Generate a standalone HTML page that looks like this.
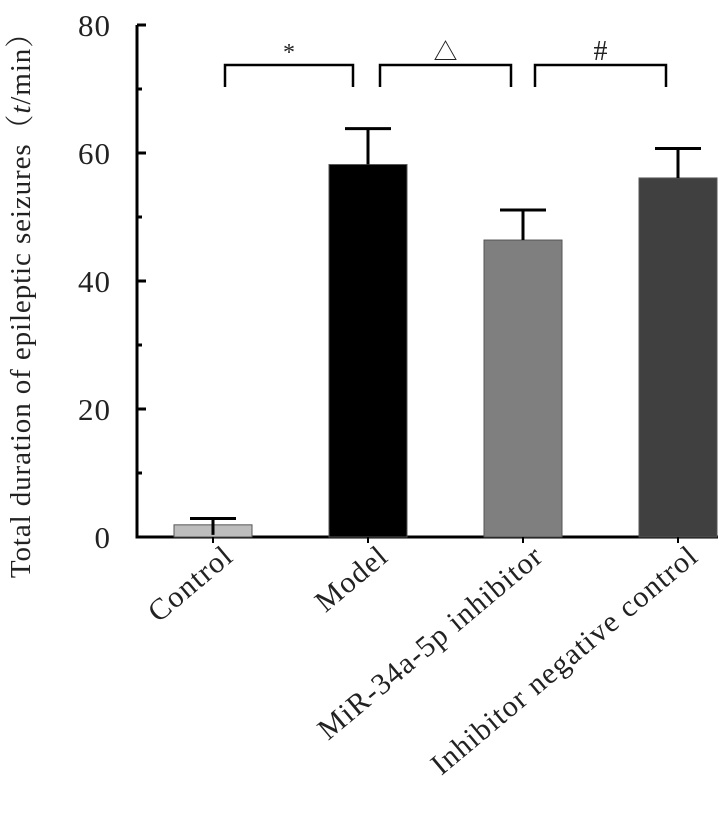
<!DOCTYPE html>
<html><head><meta charset="utf-8"><style>
body{margin:0;background:#fff}
svg text{font-family:"Liberation Serif","Noto Serif CJK SC",serif;fill:#222}
</style></head><body>
<svg width="721" height="816">
<g id="g"></g>
</svg>
<script>
const categories=["Control","Model","MiR-34a-5p inhibitor","Inhibitor negative control"];
const values=[1.9,58.2,46.4,56.1];
const errors=[1.0,5.6,4.7,4.6];
const colors=["#bdbdbd","#000000","#7f7f7f","#404040"];
const yTicks=[0,20,40,60,80];
const sigLabels=["*","△","#"];
const NS="http://www.w3.org/2000/svg";
const g=document.getElementById('g');
const y0=537,yTop=25,axX=137;
const y=v=>y0-(v/80)*(y0-yTop);
const xc=i=>213+i*155;
const bw=78;
function mk(t,a,p){const e=document.createElementNS(NS,t);for(const k in a)e.setAttribute(k,a[k]);(p||g).appendChild(e);return e;}
let e=mk('line',{x1:axX,y1:yTop,x2:axX,y2:y0+1.5,stroke:'#000','stroke-width':3});


e=mk('line',{x1:axX-1.5,y1:y0,x2:718,y2:y0,stroke:'#000','stroke-width':3});


for(let v=0;v<=80;v+=10){
 const maj=v%20===0;
 e=mk('line',{x1:axX,y1:y(v),x2:axX+(maj?9:5),y2:y(v),stroke:'#000','stroke-width':3});
 
 
}
yTicks.forEach(v=>{
 e=mk('text',{x:111,y:y(v)+11,'text-anchor':'end','font-size':31,'letter-spacing':1});
 e.textContent=v;
 
 
});
e=mk('text',{transform:'translate(30,298) rotate(-90)','text-anchor':'middle','font-size':29,'letter-spacing':0.9});
e.innerHTML='Total duration of epileptic seizures\uff08<tspan font-style="italic">t</tspan>/min\uff09';


categories.forEach((c,i)=>{
 const cx=xc(i);
 e=mk('rect',{x:cx-bw/2,y:y(values[i]),width:bw,height:y0-y(values[i]),fill:colors[i],stroke:'#555','stroke-width':1});
 
 
 e=mk('path',{d:`M${cx} ${y(values[i])+(i===0?10:0)}V${y(values[i]+errors[i])}M${cx-23} ${y(values[i]+errors[i])}H${cx+23}`,stroke:'#000','stroke-width':3,fill:'none'});
 
 
 e=mk('line',{x1:cx,y1:y0,x2:cx,y2:y0+6,stroke:'#000','stroke-width':2});
 
 
 e=mk('text',{transform:`translate(${cx+22},${y0+22}) rotate(-40)`,'text-anchor':'end','font-size':30,'letter-spacing':1.2});
 e.textContent=c;
 
 
});
sigLabels.forEach((s,i)=>{
 const x1=xc(i)+12,x2=xc(i+1)-12+(i===0?-3:0);
 e=mk('path',{d:`M${x1} 87V65H${x2}V87`,stroke:'#000','stroke-width':2.5,fill:'none'});
 
 
 e=mk('text',{x:(x1+x2)/2,y:60,'text-anchor':'middle','font-size':s==='#'?28:24});
 e.textContent=s;
 
 
});
</script>
</body></html>
